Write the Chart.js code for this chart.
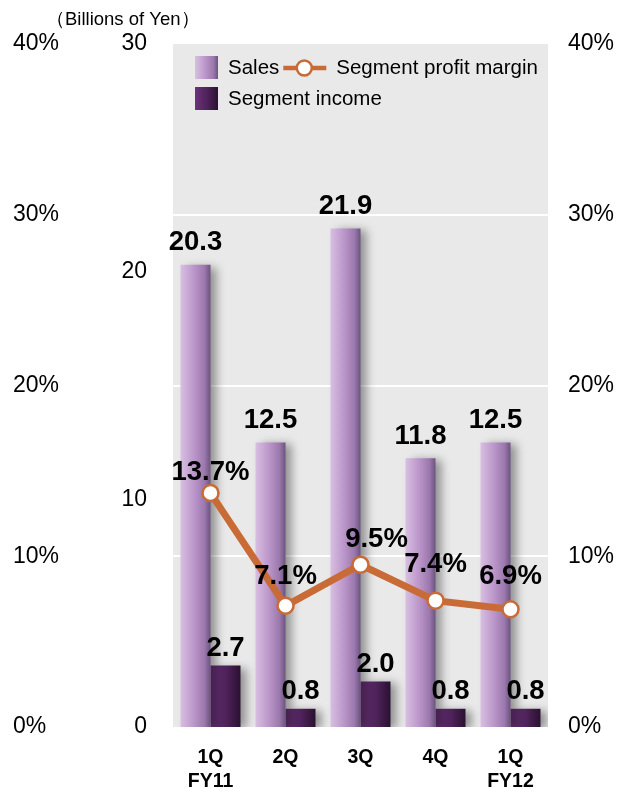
<!DOCTYPE html>
<html>
<head>
<meta charset="utf-8">
<title>Segment results</title>
<script src="https://cdn.jsdelivr.net/npm/chart.js@4.4.0/dist/chart.umd.min.js"></script>
<style>
  html, body { margin: 0; padding: 0; background: #fff; }
  #wrap { width: 619px; height: 788px; }
</style>
</head>
<body>
<div id="wrap"><canvas id="segmentChart" width="619" height="788"></canvas></div>
<script>
// quarterly figures (billions of yen / percent)
const quarters = [['1Q', 'FY11'], '2Q', '3Q', '4Q', ['1Q', 'FY12']];
const sales = [20.3, 12.5, 21.9, 11.8, 12.5];
const segmentIncome = [2.7, 0.8, 2.0, 0.8, 0.8];
const profitMargin = [13.7, 7.1, 9.5, 7.4, 6.9];
const yenTicks = [0, 10, 20, 30];
const pctTicks = [0, 10, 20, 30, 40];

// small nudges so the margin labels don't sit on the line
const marginLabelShift = [[0, -21], [0, -29], [16, -25], [0, -36], [0, -33]];

const FONT = '"Liberation Sans", Arial, sans-serif';
const ORANGE = '#c96b36';

const salesShade = [[0, '#d8bfe1'], [0.45, '#bb96ca'], [0.8, '#9b78ad'], [1, '#6c5380']];
const incomeShade = [[0, '#6c337b'], [0.55, '#4d2159'], [1, '#2a1131']];

function fillShade(ctx, x, w, stops) {
    const g = ctx.createLinearGradient(x, 0, x + w, 0);
    stops.forEach(([s, c]) => g.addColorStop(s, c));
    return g;
}

// gray plot panel behind everything
const plotPanel = {
    id: 'plotPanel',
    beforeDraw(chart) {
        const { ctx, chartArea: a } = chart;
        ctx.save();
        ctx.fillStyle = '#e9e9e9';
        ctx.fillRect(a.left, a.top, a.right - a.left, a.bottom - a.top);
        ctx.restore();
    }
};

// horizontal gradient + soft drop shadow on each bar
const barShading = {
    id: 'barShading',
    beforeDatasetDraw(chart, args) {
        const ds = chart.data.datasets[args.index];
        if (!ds.shade) return;
        const ctx = chart.ctx;
        args.meta.data.forEach(bar => {
            const left = bar.x - bar.width / 2;
            bar.options.backgroundColor = fillShade(ctx, left, bar.width, ds.shade);
        });
        ctx.save();
        ctx.shadowColor = 'rgba(0, 0, 0, 0.38)';
        ctx.shadowBlur = 9;
        ctx.shadowOffsetX = 6;
        ctx.shadowOffsetY = 2;
    },
    afterDatasetDraw(chart, args) {
        if (chart.data.datasets[args.index].shade) chart.ctx.restore();
    }
};

// value labels over bars and points
const valueLabels = {
    id: 'valueLabels',
    afterDatasetsDraw(chart) {
        const ctx = chart.ctx;
        ctx.save();
        ctx.font = 'bold 27.5px ' + FONT;
        ctx.fillStyle = '#000';
        ctx.textAlign = 'center';
        ctx.textBaseline = 'middle';
        chart.data.datasets.forEach((ds, i) => {
            const meta = chart.getDatasetMeta(i);
            meta.data.forEach((el, j) => {
                const v = ds.data[j];
                if (ds.type === 'line') {
                    const [dx, dy] = marginLabelShift[j];
                    ctx.fillText(v.toFixed(1) + '%', el.x + dx, el.y + dy);
                } else {
                    const dy = ds.shade === salesShade ? -22 : -17;
                    ctx.fillText(v.toFixed(1), el.x, el.y + dy);
                }
            });
        });
        ctx.restore();
    }
};

// unit caption and legend inside the panel
const caption = {
    id: 'caption',
    afterDraw(chart) {
        const { ctx, chartArea: a } = chart;
        const ds = chart.data.datasets;
        ctx.save();
        ctx.fillStyle = '#000';
        ctx.textBaseline = 'middle';
        ctx.font = '18.5px ' + FONT;
        ctx.fillText('（Billions of Yen）', 46, 20);

        const lx = a.left + 22, ly = a.top + 12;
        ctx.font = '20.5px ' + FONT;
        ctx.fillStyle = fillShade(ctx, lx, 23, salesShade);
        ctx.fillRect(lx, ly, 23, 23);
        ctx.fillStyle = fillShade(ctx, lx, 23, incomeShade);
        ctx.fillRect(lx, ly + 31, 23, 23);

        ctx.fillStyle = '#000';
        ctx.fillText(ds[1].label, lx + 33, ly + 12);
        ctx.fillText(ds[2].label, lx + 33, ly + 43);
        const sw = lx + 33 + ctx.measureText(ds[1].label).width + 4;
        ctx.fillText(ds[0].label, sw + 53, ly + 12);

        ctx.strokeStyle = ORANGE;
        ctx.lineWidth = 4.5;
        ctx.beginPath();
        ctx.moveTo(sw, ly + 12);
        ctx.lineTo(sw + 43, ly + 12);
        ctx.stroke();
        ctx.beginPath();
        ctx.arc(sw + 21, ly + 12, 7.5, 0, Math.PI * 2);
        ctx.fillStyle = '#fff';
        ctx.fill();
        ctx.lineWidth = 2.5;
        ctx.stroke();
        ctx.restore();
    }
};

const tickFont = { family: FONT, size: 23 };

new Chart(document.getElementById('segmentChart'), {
    data: {
        labels: quarters,
        datasets: [{
            type: 'line',
            label: 'Segment profit margin',
            data: profitMargin,
            yAxisID: 'pct',
            order: 0,
            borderColor: ORANGE,
            borderWidth: 7,
            tension: 0,
            pointRadius: 8,
            pointBackgroundColor: '#fff',
            pointBorderColor: ORANGE,
            pointBorderWidth: 2.5
        }, {
            type: 'bar',
            label: 'Sales',
            data: sales,
            yAxisID: 'yen',
            order: 1,
            shade: salesShade,
            backgroundColor: () => '#bb96ca',
            categoryPercentage: 0.8,
            barPercentage: 1.0
        }, {
            type: 'bar',
            label: 'Segment income',
            data: segmentIncome,
            yAxisID: 'yen',
            order: 1,
            shade: incomeShade,
            backgroundColor: () => '#4d2159',
            categoryPercentage: 0.8,
            barPercentage: 1.0
        }]
    },
    options: {
        responsive: false,
        animation: false,
        layout: { padding: { top: 44, left: 13, right: 0, bottom: 0 } },
        plugins: {
            legend: { display: false },
            tooltip: { enabled: false }
        },
        scales: {
            x: {
                grid: { display: false, drawTicks: false },
                border: { display: false },
                ticks: {
                    color: '#000',
                    font: { family: FONT, size: 19.5, weight: 'bold', lineHeight: 1.25 },
                    padding: 18,
                    maxRotation: 0,
                    autoSkip: false
                },
                afterFit: s => { s.height = 61; }
            },
            yen: {
                position: 'left',
                weight: 0,
                min: 0,
                max: 30,
                grid: { display: false, drawTicks: false },
                border: { display: false },
                ticks: { color: '#000', font: tickFont, padding: 26 },
                afterBuildTicks: s => { s.ticks = yenTicks.map(v => ({ value: v })); },
                afterFit: s => { s.width = 114; }
            },
            pctLeft: {
                position: 'left',
                weight: 1,
                min: 0,
                max: 40,
                grid: { display: false, drawTicks: false },
                border: { display: false },
                ticks: { color: '#000', font: tickFont, crossAlign: 'far', callback: v => v + '%' },
                afterBuildTicks: s => { s.ticks = pctTicks.map(v => ({ value: v })); },
                afterFit: s => { s.width = 46; }
            },
            pct: {
                position: 'right',
                min: 0,
                max: 40,
                grid: {
                    drawTicks: false,
                    lineWidth: 2,
                    color: c => (c.tick && c.tick.value > 0 && c.tick.value < 40) ? '#ffffff' : 'rgba(0,0,0,0)'
                },
                border: { display: false },
                ticks: { color: '#000', font: tickFont, padding: 20, callback: v => v + '%' },
                afterBuildTicks: s => { s.ticks = pctTicks.map(v => ({ value: v })); },
                afterFit: s => { s.width = 71; }
            }
        }
    },
    plugins: [plotPanel, barShading, valueLabels, caption]
});
</script>
</body>
</html>
